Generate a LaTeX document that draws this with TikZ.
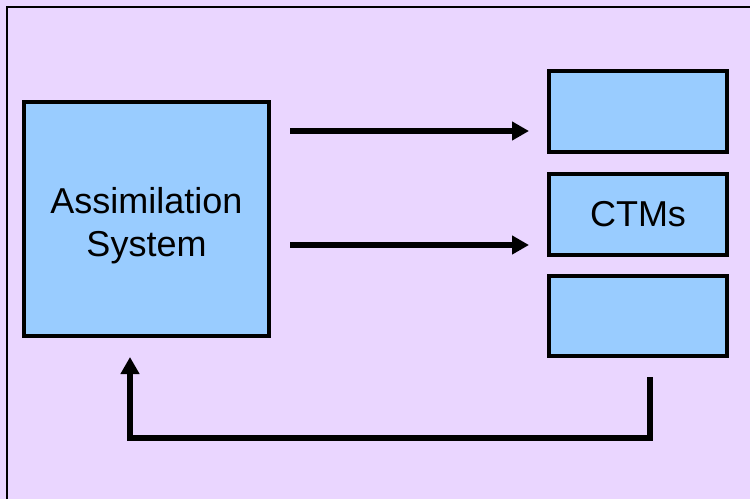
\documentclass[tikz,border=0pt]{standalone}
\usepackage{fontspec}
\setmainfont{Liberation Sans}
\usepackage{tikz}
\usetikzlibrary{shapes,arrows,arrows.meta,positioning}
\definecolor{Lavender}{RGB}{234,214,255}
\definecolor{SkyBlue}{RGB}{153,204,255}
\tikzstyle{block} = [rectangle, minimum width=178pt, minimum height=81pt, draw = black, line width=4pt, fill = SkyBlue, inner sep=0pt, align=center, font=\fontsize{36}{43}\selectfont]
\tikzstyle{line} = [draw, line width=5.5pt, -{Triangle[length=17pt, width=18pt]}]

\begin{document}
\begin{tikzpicture}[x=1pt, y=-1pt, node distance = 18pt]
    \useasboundingbox (0,0) rectangle (750,499);
    \fill [Lavender] (0,0) rectangle (750,499);
    \draw [line width=1.5pt] (7,499) -- (7,7) -- (750,7);

    \node (assim) [block, minimum width=245pt,
                   minimum height=234pt] at (146.5,219) {\rule{0pt}{40pt}Assimilation\\System};
    \node (top)   [block] at (638,111.5) {};
    \node (ctm)   [block, below = of top]  {CTMs};
    \node (bot)   [block, below = 17pt of ctm, minimum height=80pt] {};
    \coordinate (in1)   at (290,131);
    \coordinate (out1)  at (529,131);
    \coordinate (in2)   at (290,245);
    \coordinate (out2)  at (529,245);
    \coordinate (fb)    at (650,377);
    \coordinate (fbend) at (130,438);
    \path [line]   (in1) -- (out1);
    \path [line]   (in2) -- (out2);
    \path [line, shorten >=19pt]  (fb) |- (fbend) -- (fbend |- assim.south);
\end{tikzpicture}
\end{document}
